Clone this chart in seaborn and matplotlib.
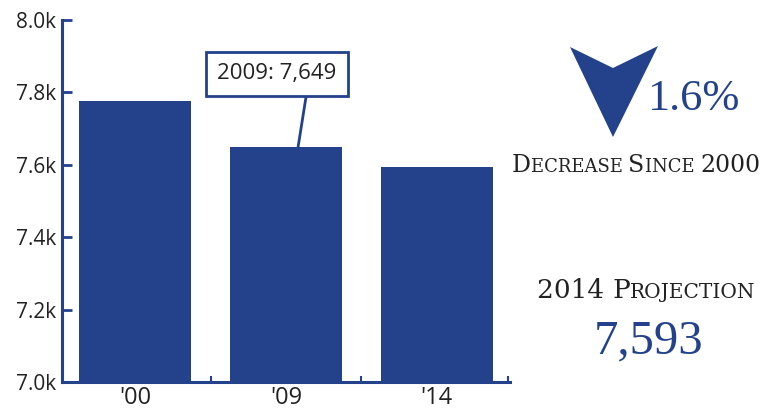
import matplotlib
matplotlib.use("Agg")
import matplotlib.pyplot as plt
from matplotlib.patches import Polygon
from matplotlib.offsetbox import TextArea, HPacker, AnchoredOffsetbox
from matplotlib.ticker import FuncFormatter, MultipleLocator, FixedLocator
import seaborn as sns
import pandas as pd

# Enrollment by year
years = ["'00", "'09", "'14"]
values = [7775, 7649, 7593]
callout_label = "2009: 7,649"
change_text = "1.6%"
projection_value = "7,593"

BLUE = "#23428b"
DARK = "#222222"

sns.set_theme(style="white")
plt.rcParams["font.family"] = ["Open Sans", "DejaVu Sans"]

fig = plt.figure(figsize=(7.64, 4.09), dpi=100)
ax = fig.add_axes([0.0812, 0.066, 0.5863, 0.885])

df = pd.DataFrame({"year": years, "value": values})
sns.barplot(data=df, x="year", y="value", color=BLUE, saturation=1,
            width=0.74, ax=ax)
for p in ax.patches:
    p.set_edgecolor("none")

ax.set_ylim(7000, 8000)
ax.set_xlim(-0.485, 2.485)
ax.yaxis.set_major_locator(MultipleLocator(200))
ax.yaxis.set_major_formatter(FuncFormatter(lambda v, _: f"{v/1000:.1f}k"))
ax.set_xlabel("")
ax.set_ylabel("")

for side in ["top", "right"]:
    ax.spines[side].set_visible(False)
for side in ["left", "bottom"]:
    ax.spines[side].set_color(BLUE)
    ax.spines[side].set_linewidth(2.2)

ax.tick_params(axis="y", direction="in", length=7, width=2, color=BLUE,
               labelsize=15, labelcolor=DARK, pad=4, left=True)
ax.tick_params(axis="x", which="major", length=0, labelsize=17,
               labelcolor=DARK, pad=3)
ax.xaxis.set_minor_locator(FixedLocator([0.5, 1.5, 2.47]))
ax.tick_params(axis="x", which="minor", direction="in", length=4, width=1.5,
               color=BLUE, bottom=True)

# Callout for the 2009 bar
ax.annotate(callout_label, xy=(1.08, values[1]), xycoords="data",
            xytext=(0.94, 7851), textcoords="data",
            ha="center", va="center", fontsize=16, color=DARK,
            bbox=dict(boxstyle="square,pad=0.5", fc="white", ec=BLUE, lw=2),
            arrowprops=dict(arrowstyle="-", color=BLUE, lw=2,
                            relpos=(0.76, 0.0), shrinkA=0, shrinkB=0))

# Down chevron
W, H = 764.0, 409.0
pts = [(570, 47), (613, 68), (658, 46), (613, 137)]
chev = Polygon([(x / W, 1 - y / H) for x, y in pts], closed=True,
               transform=fig.transFigure, fc=BLUE, ec="none")
fig.add_artist(chev)

serif = ["Liberation Serif", "DejaVu Serif"]
caps_serif = ["DejaVu Serif"]
fig.text(647 / W, 1 - 110 / H, change_text, fontsize=32, color=BLUE,
         family=serif, ha="left", va="baseline")


def small_caps(words, big, small, color):
    parts = []
    for i, w in enumerate(words):
        gap = "" if i == len(words) - 1 else " "
        if w[0].isdigit():
            parts.append(TextArea(w + gap,
                                  textprops=dict(fontsize=big, color=color,
                                                 family=caps_serif)))
            continue
        parts.append(TextArea(w[0], textprops=dict(fontsize=big, color=color,
                                                   family=caps_serif)))
        parts.append(TextArea(w[1:].upper() + gap,
                              textprops=dict(fontsize=small, color=color,
                                             family=caps_serif)))
    return HPacker(children=parts, align="baseline", pad=0, sep=0)


line1 = small_caps(["Decrease", "Since", "2000"], 17, 13, DARK)
box1 = AnchoredOffsetbox(loc="center", child=line1, frameon=False,
                         bbox_to_anchor=(636 / W, 1 - 166 / H),
                         bbox_transform=fig.transFigure, pad=0, borderpad=0)
fig.add_artist(box1)

line2 = small_caps(["2014", "Projection"], 19, 14.5, DARK)
box2 = AnchoredOffsetbox(loc="center", child=line2, frameon=False,
                         bbox_to_anchor=(646 / W, 1 - 290 / H),
                         bbox_transform=fig.transFigure, pad=0, borderpad=0)
fig.add_artist(box2)

fig.text(649 / W, 1 - 353 / H, projection_value, fontsize=35, color=BLUE,
         family=serif, ha="center", va="baseline")

fig.savefig("out.png", dpi=100, facecolor="white")
